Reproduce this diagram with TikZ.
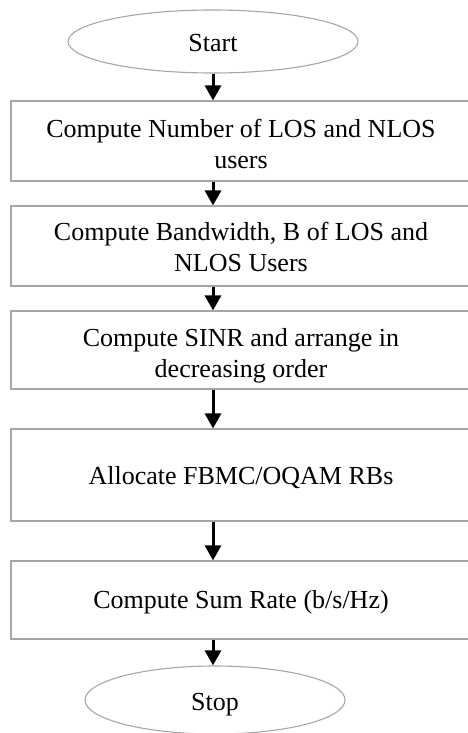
\documentclass[tikz,border=0pt]{standalone}
\usepackage{fontspec}
\setmainfont{Liberation Serif}
\usetikzlibrary{arrows.meta,shapes.geometric}
\definecolor{linegray}{RGB}{166,166,166}
\begin{document}
\begin{tikzpicture}[x=1pt,y=-1pt,
  every node/.style={font=\fontsize{26}{31}\selectfont},
  stepbox/.style={draw=linegray, line width=1.1pt, rectangle, minimum width=460pt, inner sep=0pt, align=center, text depth=0pt},
  termnode/.style={draw=linegray, line width=1.1pt, ellipse, inner sep=0pt, text depth=0pt},
  flowarrow/.style={draw=black, line width=3pt, -{Triangle[width=16pt,length=15pt]}}]
\useasboundingbox (0,0) rectangle (467,733);
\node[termnode, minimum width=290pt, minimum height=63pt, text height=21pt] (start) at (213,41.5) {Start};
\node[stepbox, minimum height=80pt, text height=54pt] (b1) at (241,141) {Compute Number of LOS and NLOS\\users};
\node[stepbox, minimum height=80pt, text height=50pt] (b2) at (241,246) {Compute Bandwidth, B of LOS and\\NLOS Users};
\node[stepbox, minimum height=78pt, text height=55pt] (b3) at (241,350) {Compute SINR and arrange in\\decreasing order};
\node[stepbox, minimum height=92pt, text height=18pt] (b4) at (241,475) {Allocate FBMC/OQAM RBs};
\node[stepbox, minimum height=78pt, text height=16pt] (b5) at (241,600) {Compute Sum Rate (b/s/Hz)};
\node[termnode, minimum width=260pt, minimum height=68pt, text height=20pt] (stop) at (215,700) {Stop};
\draw[flowarrow] (start.south) -- (start.south |- b1.north);
\draw[flowarrow] (b1.south -| start.south) -- (b2.north -| start.south);
\draw[flowarrow] (b2.south -| start.south) -- (b3.north -| start.south);
\draw[flowarrow] (b3.south -| start.south) -- (b4.north -| start.south);
\draw[flowarrow] (b4.south -| start.south) -- (b5.north -| start.south);
\draw[flowarrow] (b5.south -| start.south) -- (stop.north -| start.south);
\end{tikzpicture}
\end{document}
